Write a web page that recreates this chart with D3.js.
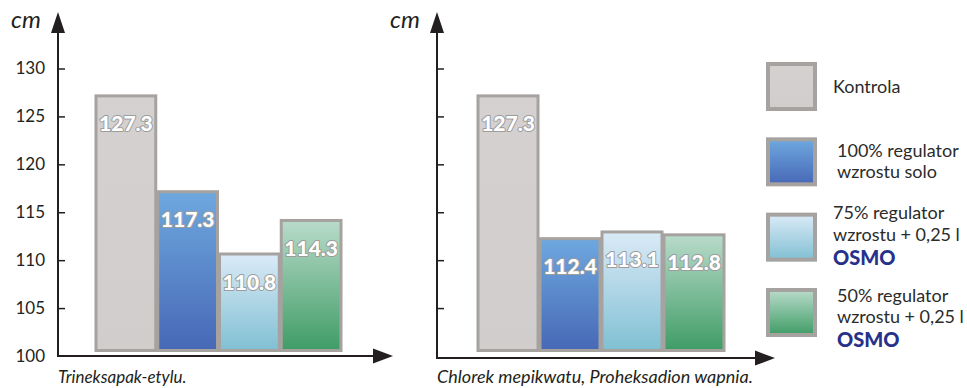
<!DOCTYPE html>
<html>
<head>
<meta charset="utf-8">
<script src="https://cdn.jsdelivr.net/npm/d3@7/dist/d3.min.js"></script>
<style>
  html, body { margin: 0; padding: 0; background: #fff; }
  svg { display: block; font-family: Lato, "Open Sans", sans-serif; }
</style>
</head>
<body>
<svg id="chart" width="967" height="388"></svg>
<script>
// Plant height (cm) per treatment, two growth-regulator programmes
const treatments = ["Kontrola", "100% regulator wzrostu solo", "75% regulator wzrostu + 0,25 l OSMO", "50% regulator wzrostu + 0,25 l OSMO"];
const groupNames = ["Trineksapak-etylu.", "Chlorek mepikwatu, Proheksadion wapnia."];
const trineksapakValues = [127.3, 117.3, 110.8, 114.3];
const chlorekValues = [127.3, 112.4, 113.1, 112.8];
const yTicks = [100, 105, 110, 115, 120, 125, 130];
const unitLabel = "cm";
const legendLines = [
  ["Kontrola"],
  ["100% regulator", "wzrostu solo"],
  ["75% regulator", "wzrostu + 0,25 l", "OSMO"],
  ["50% regulator", "wzrostu + 0,25 l", "OSMO"]
];

const svg = d3.select("#chart");
const defs = svg.append("defs");

// fill gradients (top -> bottom) for each treatment
const gradientStops = [
  ["#d4d1d0", "#d0cdcc"],
  ["#6ea8df", "#4768b6"],
  ["#dbeaf7", "#80c0d3"],
  ["#b9dbca", "#3f9c66"]
];
gradientStops.forEach((s, i) => {
  const g = defs.append("linearGradient").attr("id", "fill" + i)
    .attr("x1", 0).attr("y1", 0).attr("x2", 0).attr("y2", 1);
  g.append("stop").attr("offset", "0%").attr("stop-color", s[0]);
  g.append("stop").attr("offset", "100%").attr("stop-color", s[1]);
});
const borderColor = "#a6a2a0";
const axisColor = "#231f20";

const y = d3.scaleLinear().domain([100, 130]).range([356, 68.5]);

const panels = [
  { name: groupNames[0], values: trineksapakValues, axisX: 58, baseY: 356, xEnd: 393, barRange: [95, 342], showLabels: true, unitX: 11, nameSize: 17, nameY: 383 },
  { name: groupNames[1], values: chlorekValues, axisX: 437, baseY: 358, xEnd: 775, barRange: [477, 725], showLabels: false, unitX: 390, nameSize: 18, nameY: 383 }
];

panels.forEach(p => {
  const g = svg.append("g");
  const x = d3.scaleBand().domain(treatments).range(p.barRange).padding(0);

  // bars
  g.selectAll("rect.bar").data(p.values).join("rect")
    .attr("class", "bar")
    .attr("x", (d, i) => x(treatments[i]) + 1)
    .attr("width", x.bandwidth() - 2)
    .attr("y", d => y(d) + 1.5)
    .attr("height", d => (y(100) - 5.5) - (y(d) + 1.5))
    .attr("fill", (d, i) => `url(#fill${i})`)
    .attr("stroke", borderColor)
    .attr("stroke-width", 3);

  // value labels inside bars
  g.selectAll("text.val").data(p.values).join("text")
    .attr("class", "val")
    .attr("x", (d, i) => x(treatments[i]) + x.bandwidth() / 2)
    .attr("y", d => y(d) + 37)
    .attr("text-anchor", "middle")
    .attr("font-size", 21)
    .attr("font-weight", 900)
    .attr("fill", "#fff")
    .attr("stroke", "#9c9c9c")
    .attr("stroke-width", 2)
    .attr("paint-order", "stroke")
    .attr("stroke-linejoin", "round")
    .text(d => d.toFixed(1));

  // y axis ticks (pointing inward)
  const axis = d3.axisLeft(y).tickValues(yTicks.filter(t => t > 100 || p.showLabels))
    .tickSize(-7).tickPadding(13)
    .tickFormat(p.showLabels ? d3.format("d") : "");
  const ag = g.append("g").attr("transform", `translate(${p.axisX},0)`).call(axis);
  ag.select(".domain").remove();
  ag.selectAll(".tick line").attr("stroke", axisColor).attr("stroke-width", 1.5)
    .attr("display", d => d === 100 ? "none" : null);
  ag.selectAll(".tick text").attr("fill", "#231f20").attr("font-size", 17)
    .attr("font-family", "Lato, sans-serif");

  // axis lines with arrow heads
  g.append("line").attr("x1", p.axisX).attr("x2", p.axisX)
    .attr("y1", p.baseY + 1).attr("y2", 30)
    .attr("stroke", axisColor).attr("stroke-width", 2);
  g.append("path")
    .attr("d", `M${p.axisX},12 L${p.axisX - 7},33 L${p.axisX + 7},33 Z`)
    .attr("fill", axisColor);
  g.append("line").attr("x1", p.axisX - 1).attr("x2", p.xEnd - 18)
    .attr("y1", p.baseY).attr("y2", p.baseY)
    .attr("stroke", axisColor).attr("stroke-width", 2);
  g.append("path")
    .attr("d", `M${p.xEnd},${p.baseY} L${p.xEnd - 20},${p.baseY - 7.5} L${p.xEnd - 20},${p.baseY + 7.5} Z`)
    .attr("fill", axisColor);

  // unit label
  g.append("text").attr("x", p.unitX).attr("y", 28)
    .attr("font-size", 24).attr("font-style", "italic").attr("fill", "#231f20")
    .text(unitLabel);

  // group name under the axis
  g.append("text").attr("x", p.axisX).attr("y", p.nameY)
    .attr("font-size", p.nameSize).attr("font-style", "italic").attr("fill", "#231f20")
    .text(p.name);
});

// legend
const legendY = d3.scalePoint().domain(treatments).range([62, 288]);
const legendTextX = [833, 837, 833, 837];
const legendBaselines = [[93], [157, 178], [219, 241, 265], [302, 323, 347]];
const lg = svg.append("g");
treatments.forEach((t, i) => {
  lg.append("rect")
    .attr("x", 768).attr("y", legendY(t) + 2)
    .attr("width", 47).attr("height", 45)
    .attr("fill", `url(#fill${i})`)
    .attr("stroke", borderColor).attr("stroke-width", 4);
  legendLines[i].forEach((line, j) => {
    const isBrand = line === "OSMO";
    lg.append("text")
      .attr("x", legendTextX[i]).attr("y", legendBaselines[i][j])
      .attr("font-size", isBrand ? 20 : 18)
      .attr("font-weight", isBrand ? 900 : 400)
      .attr("fill", isBrand ? "#27318b" : "#2b2b2b")
      .text(line);
  });
});
</script>
</body>
</html>
